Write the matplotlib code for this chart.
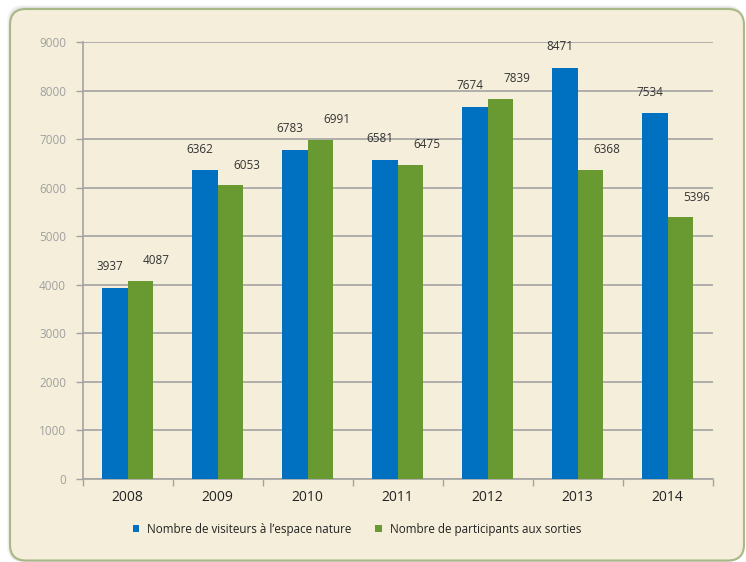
import matplotlib
matplotlib.use("Agg")
import matplotlib.pyplot as plt
import numpy as np
from matplotlib.patches import FancyBboxPatch

years = ["2008", "2009", "2010", "2011", "2012", "2013", "2014"]
visiteurs = [3937, 6362, 6783, 6581, 7674, 8471, 7534]
participants = [4087, 6053, 6991, 6475, 7839, 6368, 5396]
y_ticks = [0, 1000, 2000, 3000, 4000, 5000, 6000, 7000, 8000, 9000]
legend_labels = ["Nombre de visiteurs à l’espace nature",
                 "Nombre de participants aux sorties"]

BLUE = "#0070C0"
GREEN = "#699A31"
BG = "#F4EEDA"
GRID = "#A3A3A3"

plt.rcParams['font.family'] = ['Open Sans', 'DejaVu Sans']

W, H = 746, 562
fig = plt.figure(figsize=(W / 100, H / 100), dpi=100)
fig.patch.set_facecolor("white")

# shadow + frame (display coords, origin bottom-left)
for i, a in enumerate([0.05, 0.07, 0.09]):
    sh = FancyBboxPatch((7 + i, 0), 736 - i, H - 5 - i,
                        boxstyle="round,pad=0,rounding_size=16",
                        transform=None, facecolor="#707070", edgecolor="none",
                        alpha=a, zorder=-20)
    fig.patches.append(sh)
frame = FancyBboxPatch((10, 1.5), 734, H - 10.5,
                       boxstyle="round,pad=0,rounding_size=16",
                       transform=None, facecolor=BG, edgecolor="#A8B887",
                       linewidth=1.5, zorder=-10)
fig.patches.append(frame)

ax = fig.add_axes([82.7 / W, 1 - 478.7 / H, 630 / W, (478.7 - 42.3) / H])
ax.set_facecolor("none")
x = np.arange(len(years))
w = 0.2857
b1 = ax.bar(x - w / 2, visiteurs, w, color=BLUE, zorder=3, label=legend_labels[0])
b2 = ax.bar(x + w / 2, participants, w, color=GREEN, zorder=3, label=legend_labels[1])

for xi, v in zip(x, visiteurs):
    ax.annotate(str(v), (xi - w / 2, v), xytext=(-3.6, 15.1), textcoords="offset points",
                ha="center", va="center", fontsize=8.5, color="#333333")
for xi, v in zip(x, participants):
    ax.annotate(str(v), (xi + w / 2, v), xytext=(11.5, 14.4), textcoords="offset points",
                ha="center", va="center", fontsize=8.5, color="#333333")

ax.set_xlim(-0.5, len(years) - 0.5)
ax.set_ylim(0, 9000)
ax.set_yticks(y_ticks)
ax.set_yticklabels([str(t) for t in y_ticks], fontsize=8.5, color="#A0A0A0")
ax.yaxis.grid(True, color=GRID, linewidth=1.2, zorder=1)
ax.set_axisbelow(True)

ax.set_xticks(x)
ax.set_xticklabels(years, fontsize=10, color="#222222")
ax.tick_params(axis="x", length=0, pad=8)
ax.set_xticks(np.arange(-0.5, len(years)), minor=True)
ax.tick_params(axis="x", which="minor", length=5, width=1, color=GRID)
ax.tick_params(axis="y", length=5, width=1, color=GRID, pad=7)

for s in ["top", "right"]:
    ax.spines[s].set_visible(False)
for s in ["left", "bottom"]:
    ax.spines[s].set_color(GRID)
    ax.spines[s].set_linewidth(1.2)

leg = fig.legend(handles=[b1, b2], labels=legend_labels, loc="center",
                 bbox_to_anchor=(357 / W, 1 - 529 / H), ncol=2, frameon=False,
                 prop={"family": ["Open Sans"], "size": 8.4},
                 handlelength=0.55, handleheight=0.55,
                 handletextpad=0.7, columnspacing=2.0)
for t in leg.get_texts():
    t.set_color("#222222")

fig.savefig("out.png", dpi=100, facecolor=fig.get_facecolor())
